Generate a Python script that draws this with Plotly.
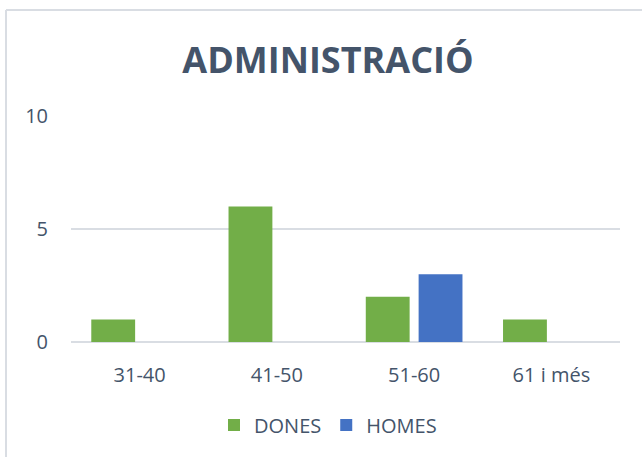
import plotly.graph_objects as go

categories = ["31-40", "41-50", "51-60", "61 i més"]
dones = [1, 6, 2, 1]
homes = [0, 0, 3, 0]
y_ticks = [0, 5, 10]

text_color = "#44546A"
font_family = "Open Sans"

fig = go.Figure()
fig.add_trace(go.Bar(x=categories, y=dones, name="DONES",
                     marker=dict(color="#72AE48", line=dict(width=0))))
fig.add_trace(go.Bar(x=categories, y=homes, name="HOMES",
                     marker=dict(color="#4472C4", line=dict(width=0))))

L, R, T, B = 71, 22, 116, 115
W, H = 642, 457
pw = W - L - R
ph = H - T - B

def px_x(px):
    return (px - L) / pw

def px_y(py):
    return (H - B - py) / ph

fig.update_layout(
    width=W, height=H,
    margin=dict(l=L, r=R, t=T, b=B, pad=0),
    paper_bgcolor="white", plot_bgcolor="white",
    barmode="group", bargap=0.23, bargroupgap=0.17,
    font=dict(family=font_family, color=text_color, size=20),
    title=dict(text="<b>ADMINISTRACIÓ</b>", x=328 / W, xanchor="center",
               y=(H - 60) / H, yanchor="middle",
               xref="container", yref="container",
               font=dict(family=font_family, size=36, color=text_color)),
    xaxis=dict(showgrid=False, showline=False, zeroline=False, ticks="",
               tickfont=dict(size=20, color=text_color), ticklabelstandoff=19),
    yaxis=dict(range=[0, 10], tickvals=y_ticks, showgrid=True, gridcolor="#D9DDE3",
               gridwidth=2, zeroline=True, zerolinecolor="#D9DDE3", zerolinewidth=2,
               showline=False, ticks="", tickfont=dict(size=20, color=text_color),
               ticklabelstandoff=22),
    legend=dict(orientation="h", x=px_x(328), xanchor="center", y=px_y(425), yanchor="middle",
                font=dict(size=20, color=text_color), itemwidth=30, traceorder="normal"),
    shapes=[
        dict(type="line", xref="paper", yref="paper", x0=px_x(6), x1=px_x(6),
             y0=px_y(10), y1=px_y(460), line=dict(color="#D9DDE3", width=2)),
        dict(type="line", xref="paper", yref="paper", x0=px_x(6), x1=px_x(645),
             y0=px_y(10), y1=px_y(10), line=dict(color="#D9DDE3", width=2)),
    ],
)

fig.write_html("out.html", config={"displayModeBar": False},
               post_script="document.body.style.margin='0';")
